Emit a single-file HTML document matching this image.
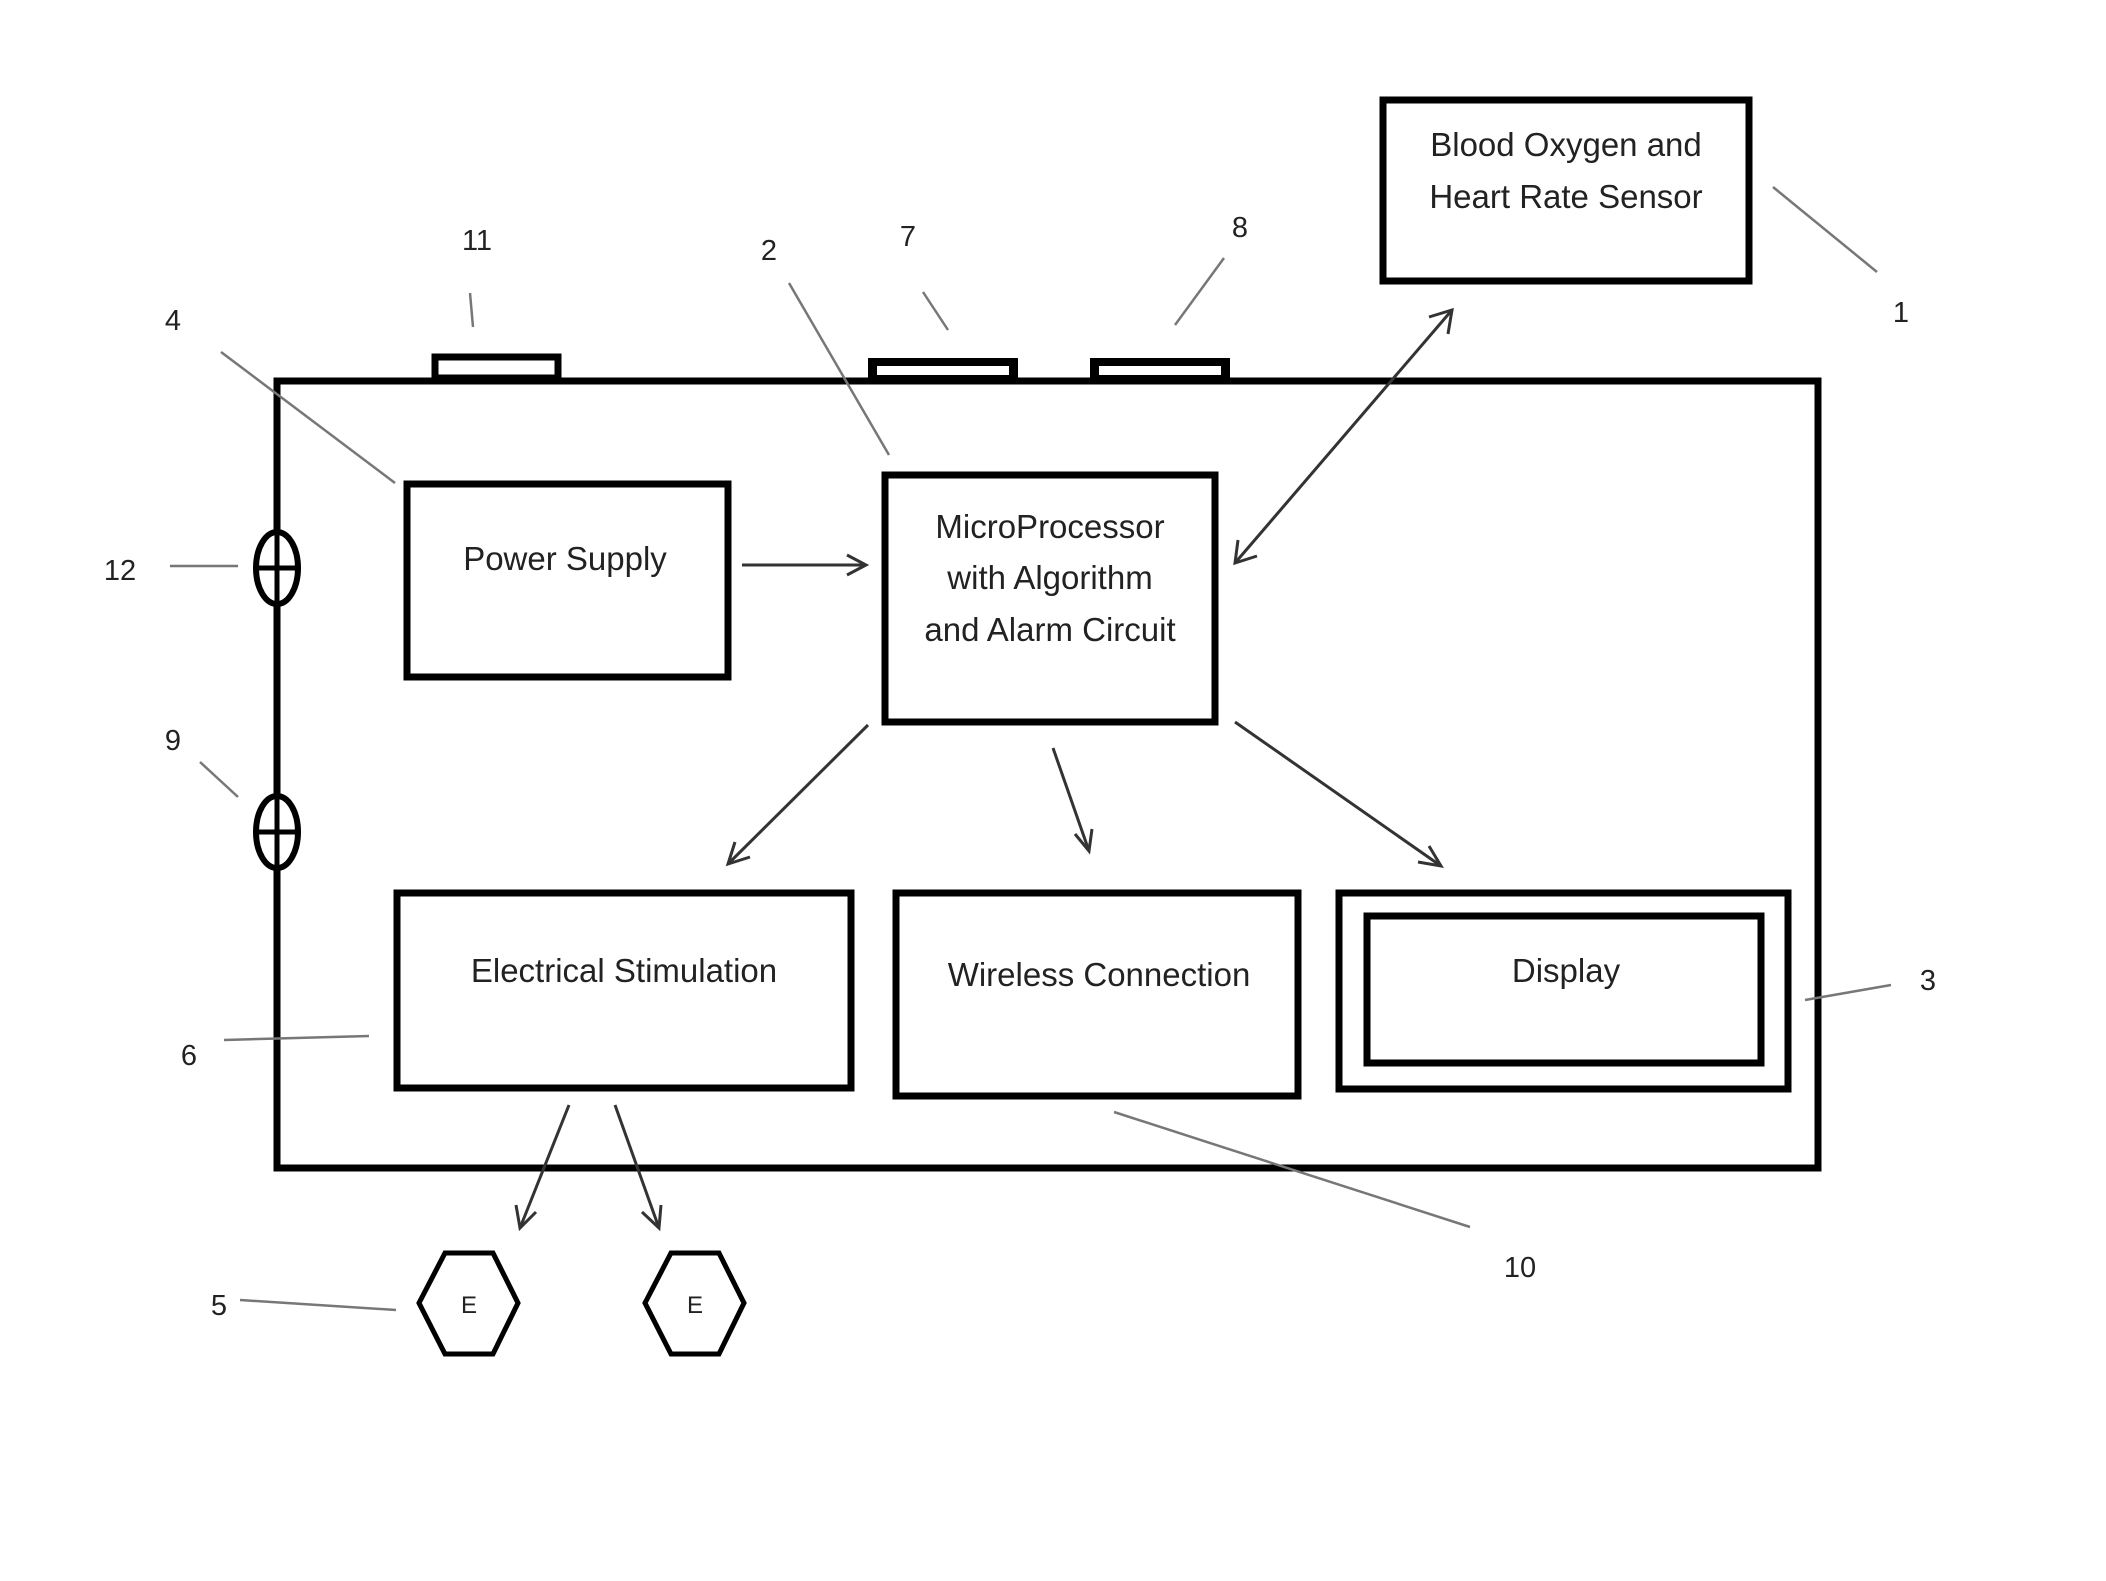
<!DOCTYPE html>
<html><head><meta charset="utf-8"><style>
html,body{margin:0;padding:0;background:#fff}
svg{display:block}
text{font-family:"Liberation Sans",sans-serif;fill:#222}
.b{fill:none;stroke:#000;stroke-width:7}
.l{stroke:#777;stroke-width:2.5;fill:none}
.a{stroke:#333;stroke-width:3;fill:none}
.t{font-size:33px;text-anchor:middle}
.n{font-size:29px;text-anchor:middle}
</style></head><body>
<svg width="2106" height="1581" viewBox="0 0 2106 1581" xmlns="http://www.w3.org/2000/svg">
<!-- sensor -->
<rect class="b" x="1383" y="100" width="366" height="181"/>
<text class="t" x="1566" y="156">Blood Oxygen and</text>
<text class="t" x="1566" y="208">Heart Rate Sensor</text>
<line class="l" x1="1773" y1="187" x2="1877" y2="272"/>
<text class="n" x="1901" y="322">1</text>
<!-- main -->
<rect class="b" x="277" y="381" width="1541" height="787"/>
<!-- tabs -->
<rect class="b" x="435" y="357" width="123" height="21"/>
<rect x="868" y="358" width="150" height="26" fill="#000"/><rect x="877" y="366" width="132" height="9" fill="#fff"/>
<rect x="1090" y="358" width="140" height="26" fill="#000"/><rect x="1099" y="366" width="122" height="9" fill="#fff"/>
<!-- labels top -->
<text class="n" x="477" y="250">11</text><line class="l" x1="470" y1="293" x2="473" y2="327"/>
<text class="n" x="769" y="260">2</text><line class="l" x1="789" y1="283" x2="889" y2="455"/>
<text class="n" x="908" y="246">7</text><line class="l" x1="923" y1="292" x2="948" y2="330"/>
<text class="n" x="1240" y="237">8</text><line class="l" x1="1224" y1="258" x2="1175" y2="325"/>
<text class="n" x="173" y="330">4</text><line class="l" x1="221" y1="352" x2="395" y2="483"/>
<!-- power supply -->
<rect class="b" x="407" y="484" width="321" height="193"/>
<text class="t" x="565" y="570">Power Supply</text>
<line class="a" x1="742" y1="565" x2="866" y2="565"/><polyline class="a" points="847,555 866,565 847,575"/>
<!-- MP -->
<rect class="b" x="885" y="475" width="330" height="247"/>
<text class="t" x="1050" y="538">MicroProcessor</text>
<text class="t" x="1050" y="589">with Algorithm</text>
<text class="t" x="1050" y="641">and Alarm Circuit</text>
<!-- double arrow -->
<line class="a" x1="1452" y1="310" x2="1235" y2="563"/>
<polyline class="a" points="1429,317 1452,310 1448,334"/>
<polyline class="a" points="1238,540 1235,563 1257,556"/>
<!-- arrows from MP -->
<line class="a" x1="868" y1="725" x2="728" y2="864"/><polyline class="a" points="735,842 728,864 750,857"/>
<line class="a" x1="1053" y1="748" x2="1089" y2="851"/><polyline class="a" points="1075,834 1089,851 1092,829"/>
<line class="a" x1="1235" y1="722" x2="1441" y2="866"/><polyline class="a" points="1429,846 1441,866 1418,862"/>
<!-- side ellipses -->
<ellipse cx="277" cy="568" rx="21" ry="36" fill="#fff" stroke="#000" stroke-width="6"/>
<line x1="256" y1="568" x2="298" y2="568" stroke="#000" stroke-width="5"/>
<line x1="277" y1="532" x2="277" y2="604" stroke="#000" stroke-width="5"/>
<ellipse cx="277" cy="832" rx="21" ry="36" fill="#fff" stroke="#000" stroke-width="6"/>
<line x1="256" y1="832" x2="298" y2="832" stroke="#000" stroke-width="5"/>
<line x1="277" y1="796" x2="277" y2="868" stroke="#000" stroke-width="5"/>
<text class="n" x="120" y="580">12</text><line class="l" x1="170" y1="566" x2="238" y2="566"/>
<text class="n" x="173" y="750">9</text><line class="l" x1="200" y1="762" x2="238" y2="797"/>
<!-- bottom boxes -->
<rect class="b" x="397" y="893" width="454" height="195"/>
<text class="t" x="624" y="982">Electrical Stimulation</text>
<text class="n" x="189" y="1065">6</text><line class="l" x1="224" y1="1040" x2="369" y2="1036"/>
<rect class="b" x="896" y="893" width="402" height="203"/>
<text class="t" x="1099" y="986">Wireless Connection</text>
<rect class="b" x="1339" y="893" width="449" height="196"/>
<rect class="b" x="1367" y="916" width="394" height="147"/>
<text class="t" x="1566" y="982">Display</text>
<text class="n" x="1928" y="990">3</text><line class="l" x1="1805" y1="1000" x2="1891" y2="985"/>
<line class="l" x1="1114" y1="1112" x2="1470" y2="1227"/>
<text class="n" x="1520" y="1277">10</text>
<!-- arrows to E -->
<line class="a" x1="569" y1="1105" x2="520" y2="1228"/><polyline class="a" points="516,1205 520,1228 536,1212"/>
<line class="a" x1="615" y1="1105" x2="659" y2="1228"/><polyline class="a" points="642,1212 659,1228 661,1205"/>
<!-- hexagons -->
<polygon points="445,1253 493,1253 518,1303 493,1354 445,1354 419,1303" fill="none" stroke="#000" stroke-width="5"/>
<text x="469" y="1313" font-size="24" text-anchor="middle">E</text>
<polygon points="671,1253 719,1253 744,1303 719,1354 671,1354 645,1303" fill="none" stroke="#000" stroke-width="5"/>
<text x="695" y="1313" font-size="24" text-anchor="middle">E</text>
<text class="n" x="219" y="1315">5</text><line class="l" x1="240" y1="1300" x2="396" y2="1310"/>
</svg>
</body></html>
